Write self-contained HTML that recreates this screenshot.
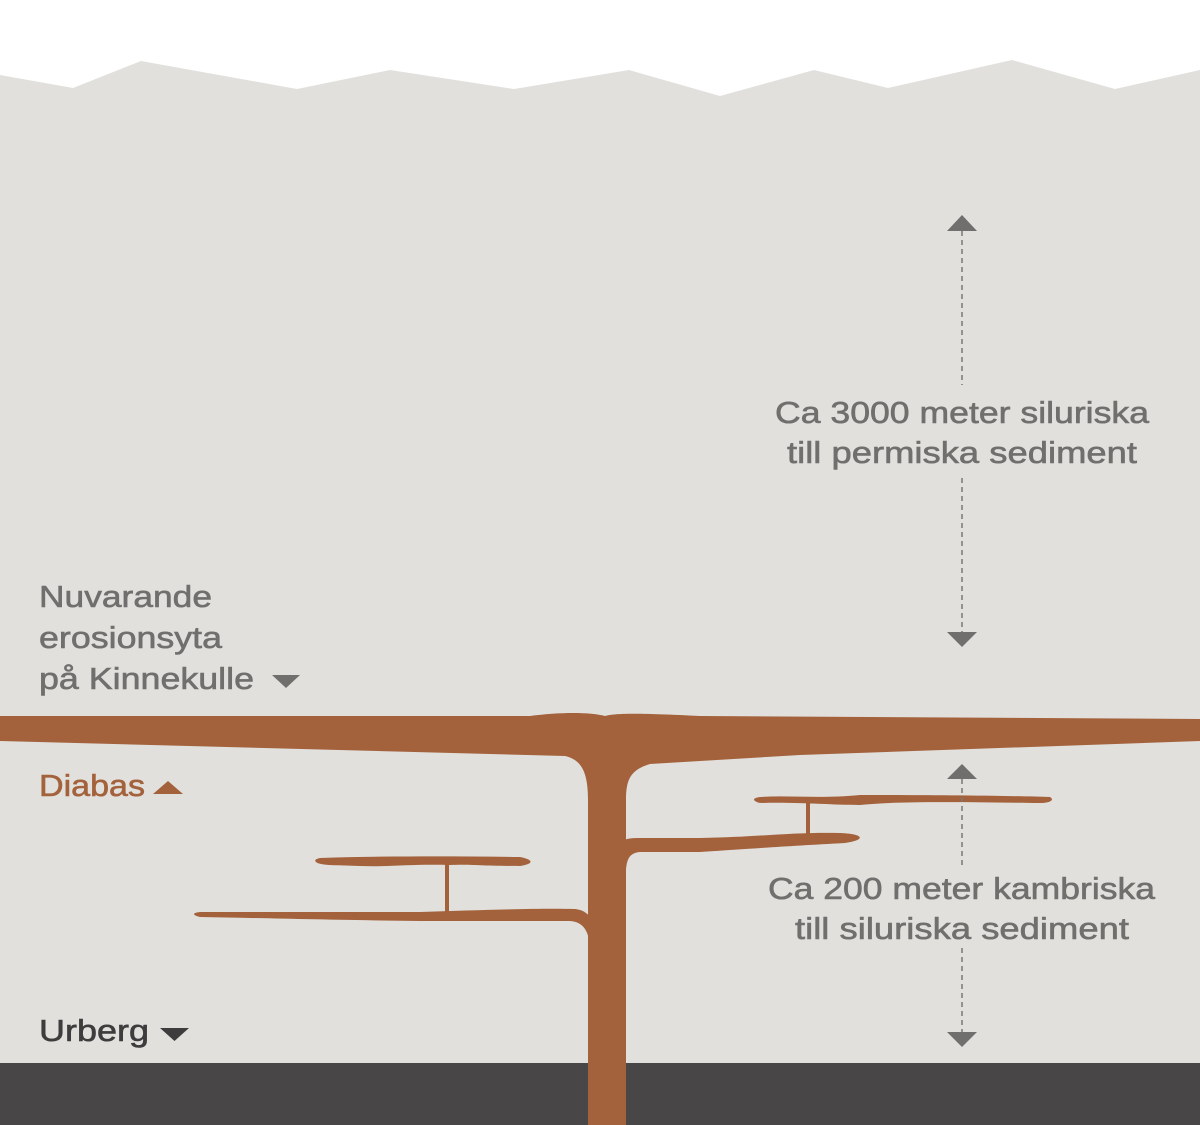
<!DOCTYPE html>
<html><head><meta charset="utf-8"><style>
html,body{margin:0;padding:0;background:#fff}
svg{display:block}
text{font-family:"Liberation Sans",sans-serif;font-size:31px;fill:#716f6e;stroke:#716f6e;stroke-width:0.6}
</style></head><body>
<svg width="1200" height="1125" viewBox="0 0 1200 1125" xmlns="http://www.w3.org/2000/svg">
<rect width="1200" height="1125" fill="#fff"/>
<polygon fill="#e1e0dd" points="0,75 73,88 141,61 297,89 390,70 514,89 629,70 720,96 814,70 888,88 1012,60 1115,89 1200,70 1200,1125 0,1125"/>
<rect x="0" y="1063" width="1200" height="62" fill="#484646"/>
<g fill="#a4623c">
<path d="M0,716 L530,716 C560,712 590,712 605,716 C615,713 640,713 700,716 L1200,719 L1200,741 L800,755 L650,764 C630,770 626,780 626,800 L626,1125 L588,1125 L588,800 C588,775 583,760 565,756 L0,741 Z"/>
<path d="M615,850 C620,840 625,838 640,838 L700,838 C760,837 790,832 840,833 C865,834 866,840 845,843 C790,846 760,848 700,852 L640,852 C630,853 627,858 626,870 Z"/>
<path d="M760,797 C790,795 820,799 860,795 C950,795 1020,796 1050,797 C1055,800 1050,803 1040,803 C950,802 900,801 860,805 C830,805 800,802 760,803 C752,801 752,798 760,797 Z"/>
<rect x="806" y="801" width="4" height="34"/>
<path d="M200,912 L420,912 C480,910 540,908 575,909 C585,910 590,915 595,925 L590,945 C588,930 583,922 570,921 L420,921 C330,920 260,918 200,917 C192,915 192,913 200,912 Z"/>
<path d="M320,858 C380,856 450,856 520,857 C535,860 533,864 520,866 C480,866 470,864 450,865 C410,864 390,867 360,866 C340,865 320,866 316,862 C314,860 316,859 320,858 Z"/>
<rect x="445" y="864" width="4" height="48"/>
</g>
<g fill="#716f6e">
<polygon points="962,215 947,231 977,231"/>
<polygon points="962,647 947,632 977,632"/>
<polygon points="962,764 947,779 977,779"/>
<polygon points="962,1047 947,1032 977,1032"/>
<polygon points="272,675 300,675 286,688"/>
<polygon points="160,1028 189,1028 174.5,1041" fill="#3e3c3c"/>
</g>
<polygon fill="#a4623c" points="153,794 183,794 168,781"/>
<g stroke="#7a7878" stroke-width="1.5" stroke-dasharray="5,4">
<line x1="962" y1="231" x2="962" y2="385"/>
<line x1="962" y1="478" x2="962" y2="632"/>
<line x1="962" y1="779" x2="962" y2="865"/>
<line x1="962" y1="948" x2="962" y2="1032"/>
</g>
<text x="775" y="423" textLength="374" lengthAdjust="spacingAndGlyphs">Ca 3000 meter siluriska</text>
<text x="787" y="463" textLength="350" lengthAdjust="spacingAndGlyphs">till permiska sediment</text>
<text x="768" y="899" textLength="387" lengthAdjust="spacingAndGlyphs">Ca 200 meter kambriska</text>
<text x="795" y="939" textLength="334" lengthAdjust="spacingAndGlyphs">till siluriska sediment</text>
<text x="39" y="607" textLength="173" lengthAdjust="spacingAndGlyphs">Nuvarande</text>
<text x="39" y="648" textLength="183" lengthAdjust="spacingAndGlyphs">erosionsyta</text>
<text x="39" y="689" textLength="215" lengthAdjust="spacingAndGlyphs">på Kinnekulle</text>
<text x="39" y="796" textLength="106" lengthAdjust="spacingAndGlyphs" style="fill:#a4623c;stroke:#a4623c">Diabas</text>
<text x="39" y="1041" textLength="110" lengthAdjust="spacingAndGlyphs" style="fill:#3e3c3c;stroke:#3e3c3c">Urberg</text>
</svg>
</body></html>
